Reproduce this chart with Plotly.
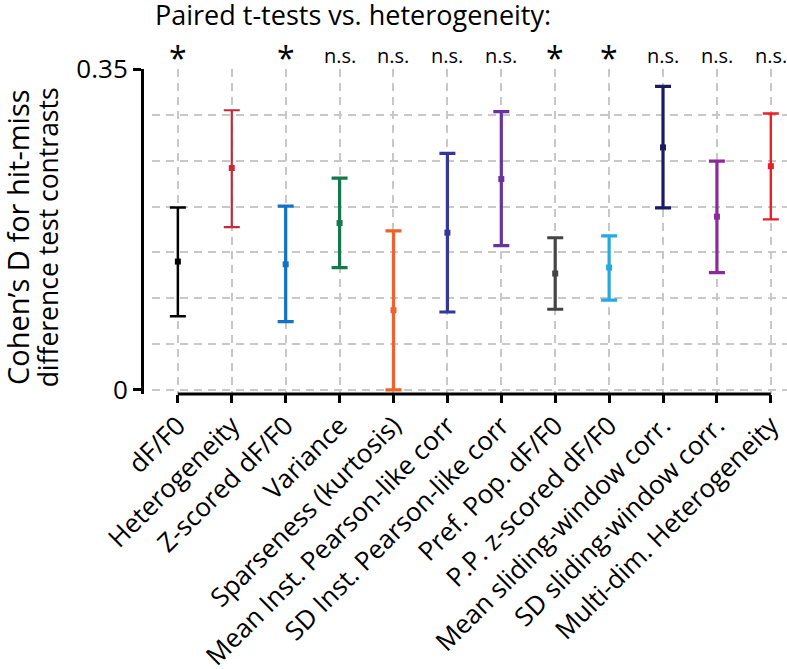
import plotly.graph_objects as go

categories = ["dF/F0", "Heterogeneity", "Z-scored dF/F0", "Variance", "Sparseness (kurtosis)",
              "Mean Inst. Pearson-like corr", "SD Inst. Pearson-like corr", "Pref. Pop. dF/F0",
              "P.P. z-scored dF/F0", "Mean sliding-window corr.", "SD sliding-window corr.",
              "Multi-dim. Heterogeneity"]
means = [0.140, 0.242, 0.137, 0.182, 0.087, 0.1715, 0.230, 0.127, 0.1335, 0.2645, 0.189, 0.244]
uppers = [0.199, 0.305, 0.2005, 0.231, 0.1735, 0.258, 0.3035, 0.166, 0.168, 0.331, 0.2495, 0.3015]
lowers = [0.0805, 0.1775, 0.0745, 0.1335, 0.0, 0.085, 0.1575, 0.088, 0.098, 0.1985, 0.128, 0.186]
significance = ["*", "", "*", "n.s.", "n.s.", "n.s.", "n.s.", "*", "*", "n.s.", "n.s.", "n.s."]
colors = ["#000000", "#c42a3a", "#1272c4", "#15784a", "#f0622c", "#34369a", "#6a329c",
          "#454545", "#26a9e0", "#1b1a63", "#8c2a9c", "#e81f2a"]
widths = [2.5, 2.2, 3.2, 3.2, 3.2, 3.2, 3.2, 3.2, 3.2, 3.2, 3.2, 2.4]

FONT = "Open Sans"
GRID = "#c8c8c8"
fig = go.Figure()
for i, cat in enumerate(categories):
    fig.add_trace(go.Scatter(
        x=[i], y=[means[i]], mode="markers",
        marker=dict(color=colors[i], size=6, symbol="square"),
        error_y=dict(type="data", symmetric=False,
                     array=[uppers[i] - means[i]], arrayminus=[means[i] - lowers[i]],
                     color=colors[i], thickness=widths[i], width=8),
        showlegend=False, cliponaxis=False))

for i, s in enumerate(significance):
    if not s:
        continue
    if s == "*":
        fig.add_annotation(x=i, y=1, xref="x", yref="paper", text="*", showarrow=False,
                           font=dict(family=FONT, size=32, color="black"),
                           xanchor="center", yanchor="bottom", yshift=-12)
    else:
        fig.add_annotation(x=i, y=1, xref="x", yref="paper", text=s, showarrow=False,
                           font=dict(family=FONT, size=20, color="black"),
                           xanchor="center", yanchor="bottom", yshift=-2)

# title
fig.add_annotation(x=0.327, y=1.169, xref="paper", yref="paper",
                   text="Paired t-tests vs. heterogeneity:", xanchor="center", yanchor="middle",
                   showarrow=False, font=dict(family=FONT, size=27, color="black"))

# x-axis line spanning first to last category
fig.add_shape(type="line", xref="x", yref="paper", x0=0, x1=len(categories) - 1, y0=0, y1=0,
              line=dict(color="black", width=3))

fig.update_layout(
    template="none",
    width=787, height=669,
    margin=dict(l=142, r=0, t=69, b=275),
    plot_bgcolor="white", paper_bgcolor="white",
    font=dict(family=FONT, color="black"),
    xaxis=dict(domain=[0.0155, 1], range=[-0.48, 11.3], tickmode="array",
               tickvals=list(range(len(categories))), ticktext=categories,
               tickangle=-45, tickfont=dict(size=26, family=FONT), ticklabelstandoff=-3,
               ticks="outside", ticklen=8, tickwidth=3, tickcolor="black",
               showgrid=True, gridcolor=GRID, gridwidth=2, griddash="8px,6px",
               showline=False, zeroline=False, automargin=False, ticklabeloverflow="allow"),
    yaxis=dict(anchor="free", position=0, range=[-0.0044, 0.35],
               tickmode="array", tickvals=[0, 0.35], ticktext=["0", "0.35"],
               tickfont=dict(size=26, family=FONT),
               ticks="outside", ticklen=8, tickwidth=3, tickcolor="black",
               showline=True, linecolor="black", linewidth=3,
               showgrid=True, gridcolor=GRID, gridwidth=2, griddash="8px,6px",
               minor=dict(tickmode="linear", tick0=0, dtick=0.05, showgrid=True,
                          gridcolor=GRID, gridwidth=2, griddash="8px,6px", ticks=""),
               zeroline=False, automargin=False),
)

# y-axis title lines
fig.add_annotation(x=-0.193, y=0.4815, xref="paper", yref="paper", text="Cohen’s D for hit-miss",
                   xanchor="center", yanchor="middle",
                   textangle=-90, showarrow=False, font=dict(family=FONT, size=29, color="black"))
fig.add_annotation(x=-0.146, y=0.4815, xref="paper", yref="paper", text="difference test contrasts",
                   xanchor="center", yanchor="middle",
                   textangle=-90, showarrow=False, font=dict(family=FONT, size=26.5, color="black"))

fig.write_html("out.html", post_script="document.body.style.margin='0';",
               config={"displayModeBar": False})
